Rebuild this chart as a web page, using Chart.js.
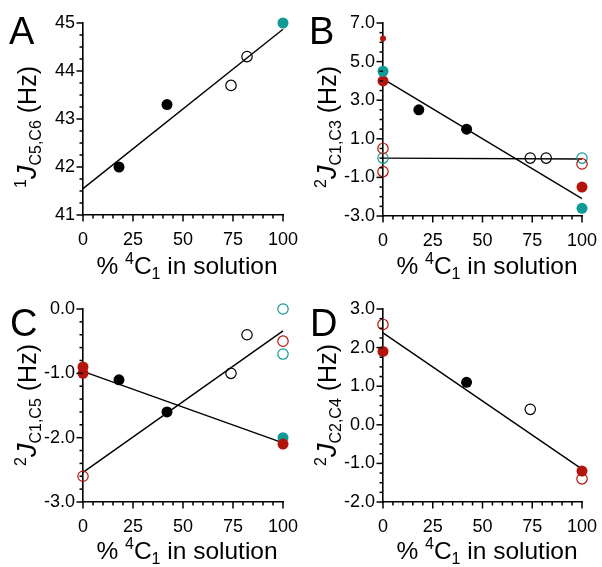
<!DOCTYPE html>
<html>
<head>
<meta charset="utf-8">
<script src="https://cdn.jsdelivr.net/npm/chart.js@4.4.1/dist/chart.umd.min.js"></script>
<style>
html,body{margin:0;padding:0;background:#fff;}
#fig{position:relative;width:602px;height:567px;overflow:hidden;font-family:"Liberation Sans",Arial,sans-serif;color:#000;}
canvas{position:absolute;}
.lab{position:absolute;line-height:1;white-space:nowrap;}
.letter{font-size:38px;}
.xt{font-size:24.5px;transform:translateX(-50%);}
.yt{font-size:25px;transform:translate(-50%,-50%) rotate(-90deg);}
.sup{font-size:16px;position:relative;top:-10px;}
.sub{font-size:16px;position:relative;top:5px;}
.j{font-style:italic;font-size:27px;}
</style>
</head>
<body>
<div id="fig">
  <canvas id="cA" width="301" height="290" style="left:0;top:0"></canvas>
  <canvas id="cB" width="301" height="290" style="left:301px;top:0"></canvas>
  <canvas id="cC" width="301" height="277" style="left:0;top:290px"></canvas>
  <canvas id="cD" width="301" height="277" style="left:301px;top:290px"></canvas>

  <div class="lab letter" style="left:9px;top:12px">A</div>
  <div class="lab letter" style="left:309px;top:12px">B</div>
  <div class="lab letter" style="left:10px;top:304px">C</div>
  <div class="lab letter" style="left:310px;top:304px">D</div>

  <div class="lab xt" style="left:187px;top:254px">% <span class="sup">4</span>C<span class="sub">1</span> in solution</div>
  <div class="lab xt" style="left:487px;top:254px">% <span class="sup">4</span>C<span class="sub">1</span> in solution</div>
  <div class="lab xt" style="left:187px;top:539px">% <span class="sup">4</span>C<span class="sub">1</span> in solution</div>
  <div class="lab xt" style="left:487px;top:539px">% <span class="sup">4</span>C<span class="sub">1</span> in solution</div>

  <div class="lab yt" style="left:27px;top:127px"><span class="sup">1</span><span class="j">J</span><span class="sub">C5,C6</span> (Hz)</div>
  <div class="lab yt" style="left:327px;top:127px"><span class="sup">2</span><span class="j">J</span><span class="sub">C1,C3</span> (Hz)</div>
  <div class="lab yt" style="left:27px;top:405px"><span class="sup">2</span><span class="j">J</span><span class="sub">C1,C5</span> (Hz)</div>
  <div class="lab yt" style="left:327px;top:405px"><span class="sup">2</span><span class="j">J</span><span class="sub">C2,C4</span> (Hz)</div>
</div>
<script>
// x axis: % 4C1 in solution (shared by all panels)
const xLabels = ['0', '25', '50', '75', '100'];

// panel A: 1J C5,C6
const aYLabels = ['41', '42', '43', '44', '45'];
const aBlackSolid = [[18, 42.0], [42, 43.3]];
const aBlackOpen = [[74, 43.7], [82, 44.3]];
const aTealSolid = [[100, 45.0]];
const aFit = [[0, 41.55], [100, 44.87]];

// panel B: 2J C1,C3
const bYLabels = ['-3.0', '-1.0', '1.0', '3.0', '5.0', '7.0'];
const bBlackSolid = [[18, 2.5], [42, 1.5]];
const bBlackOpen = [[74, 0.0], [82, 0.0]];
const bRedSolid = [[0, 4.0], [100, -1.5]];
const bRedSmall = [[0, 6.2]];
const bRedOpen = [[0, 0.5], [0, -0.7], [100, -0.3]];
const bTealSolid = [[0, 4.5], [100, -2.6]];
const bTealOpen = [[0, 0.0], [100, 0.0]];
const bFit1 = [[0, 4.1], [100, -2.1]];
const bFit2 = [[0, 0.0], [100, -0.05]];

// panel C: 2J C1,C5
const cYLabels = ['-3.0', '-2.0', '-1.0', '0.0'];
const cBlackSolid = [[18, -1.1], [42, -1.6]];
const cBlackOpen = [[74, -1.0], [82, -0.4]];
const cRedSolid = [[0, -0.9], [0, -1.0], [100, -2.1]];
const cRedOpen = [[0, -2.6], [100, -0.5]];
const cTealSolid = [[100, -2.0]];
const cTealOpen = [[100, 0.0], [100, -0.7]];
const cFit1 = [[0, -0.97], [100, -2.08]];
const cFit2 = [[0, -2.54], [100, -0.34]];

// panel D: 2J C2,C4
const dYLabels = ['-2.0', '-1.0', '0.0', '1.0', '2.0', '3.0'];
const dBlackSolid = [[42, 1.1]];
const dBlackOpen = [[74, 0.4]];
const dRedSolid = [[0, 1.9], [100, -1.2]];
const dRedOpen = [[0, 2.6], [100, -1.4]];
const dFit = [[0, 2.38], [100, -1.15]];

const BLACK = '#000000', TEAL = '#0f9a96', RED = '#b3150d';

const pts = a => a.map(([x, y]) => ({x, y}));
const solid = (d, c, r = 5.5) => ({type: 'scatter', data: pts(d), pointRadius: r, backgroundColor: c, borderColor: c, borderWidth: 0, clip: false, order: 1});
const open = (d, c) => ({type: 'scatter', data: pts(d), pointRadius: 5.2, backgroundColor: 'rgba(0,0,0,0)', borderColor: c, borderWidth: 1.2, clip: false, order: 1});
const fit = d => ({type: 'line', data: pts(d), borderColor: BLACK, borderWidth: 1.4, pointRadius: 0, fill: false, tension: 0, clip: false, order: 2});

// major and minor tick marks, pointing outward
const tickMarks = {
  id: 'tickMarks',
  afterDraw(chart, args, opts) {
    const {ctx, chartArea} = chart;
    ctx.save();
    ctx.strokeStyle = BLACK;
    ctx.lineWidth = 1.5;
    ['x', 'y'].forEach(id => {
      const s = chart.scales[id], o = opts[id];
      const n = Math.round((s.max - s.min) / o.step);
      for (let i = 0; i <= n; i++) {
        const v = s.min + i * o.step;
        const k = (v - s.min) / o.major;
        const len = Math.abs(k - Math.round(k)) < 1e-6 ? 6.5 : 3.5;
        const p = s.getPixelForValue(v);
        ctx.beginPath();
        if (id === 'x') { ctx.moveTo(p, chartArea.bottom); ctx.lineTo(p, chartArea.bottom + len); }
        else { ctx.moveTo(chartArea.left - len, p); ctx.lineTo(chartArea.left, p); }
        ctx.stroke();
      }
    });
    ctx.restore();
  }
};

function panel(id, area, yLabels, yStep, datasets) {
  const cv = document.getElementById(id);
  const yVals = yLabels.map(Number), xVals = xLabels.map(Number);
  const tickFont = {family: '"Liberation Sans", Arial, sans-serif', size: 18};
  const noPad = s => { s.paddingLeft = s.paddingRight = s.paddingTop = s.paddingBottom = 0; };
  return new Chart(cv, {
    type: 'scatter',
    data: {datasets},
    plugins: [tickMarks],
    options: {
      responsive: false,
      animation: false,
      events: [],
      layout: {padding: {left: 0, top: area.top, right: cv.width - area.right, bottom: 0}},
      plugins: {
        legend: {display: false},
        tooltip: {enabled: false},
        tickMarks: {x: {step: 5, major: 25}, y: {step: yStep, major: yVals[1] - yVals[0]}}
      },
      scales: {
        x: {
          type: 'linear', min: xVals[0], max: xVals[xVals.length - 1],
          grid: {display: false, drawTicks: false},
          border: {display: true, color: BLACK, width: 1.6},
          afterBuildTicks: s => { s.ticks = xVals.map(value => ({value})); },
          afterFit: s => { s.height = cv.height - area.bottom; noPad(s); },
          ticks: {font: tickFont, color: BLACK, padding: 14, maxRotation: 0, autoSkip: false, callback: (v, i) => xLabels[i]}
        },
        y: {
          type: 'linear', min: yVals[0], max: yVals[yVals.length - 1],
          grid: {display: false, drawTicks: false},
          border: {display: true, color: BLACK, width: 1.6},
          afterBuildTicks: s => { s.ticks = yVals.map(value => ({value})); },
          afterFit: s => { s.width = area.left; noPad(s); },
          ticks: {font: tickFont, color: BLACK, padding: 8, autoSkip: false, callback: (v, i) => yLabels[i]}
        }
      }
    }
  });
}

panel('cA', {left: 83, top: 23, right: 283, bottom: 215}, aYLabels, 0.25, [
  solid(aBlackSolid, BLACK), open(aBlackOpen, BLACK), solid(aTealSolid, TEAL), fit(aFit)
]);
panel('cB', {left: 82, top: 23, right: 281, bottom: 216}, bYLabels, 0.5, [
  solid(bRedSmall, RED, 3), solid(bTealSolid, TEAL), solid(bRedSolid, RED), solid(bBlackSolid, BLACK),
  open(bBlackOpen, BLACK), open(bRedOpen, RED), open(bTealOpen, TEAL), fit(bFit1), fit(bFit2)
]);
panel('cC', {left: 83, top: 19, right: 283, bottom: 212}, cYLabels, 0.2, [
  solid(cRedSolid, RED), solid(cTealSolid, TEAL), solid(cBlackSolid, BLACK),
  open(cBlackOpen, BLACK), open(cRedOpen, RED), open(cTealOpen, TEAL), fit(cFit1), fit(cFit2)
]);
panel('cD', {left: 82, top: 19, right: 281, bottom: 212}, dYLabels, 0.25, [
  solid(dRedSolid, RED), solid(dBlackSolid, BLACK), open(dBlackOpen, BLACK), open(dRedOpen, RED), fit(dFit)
]);
</script>
</body>
</html>
